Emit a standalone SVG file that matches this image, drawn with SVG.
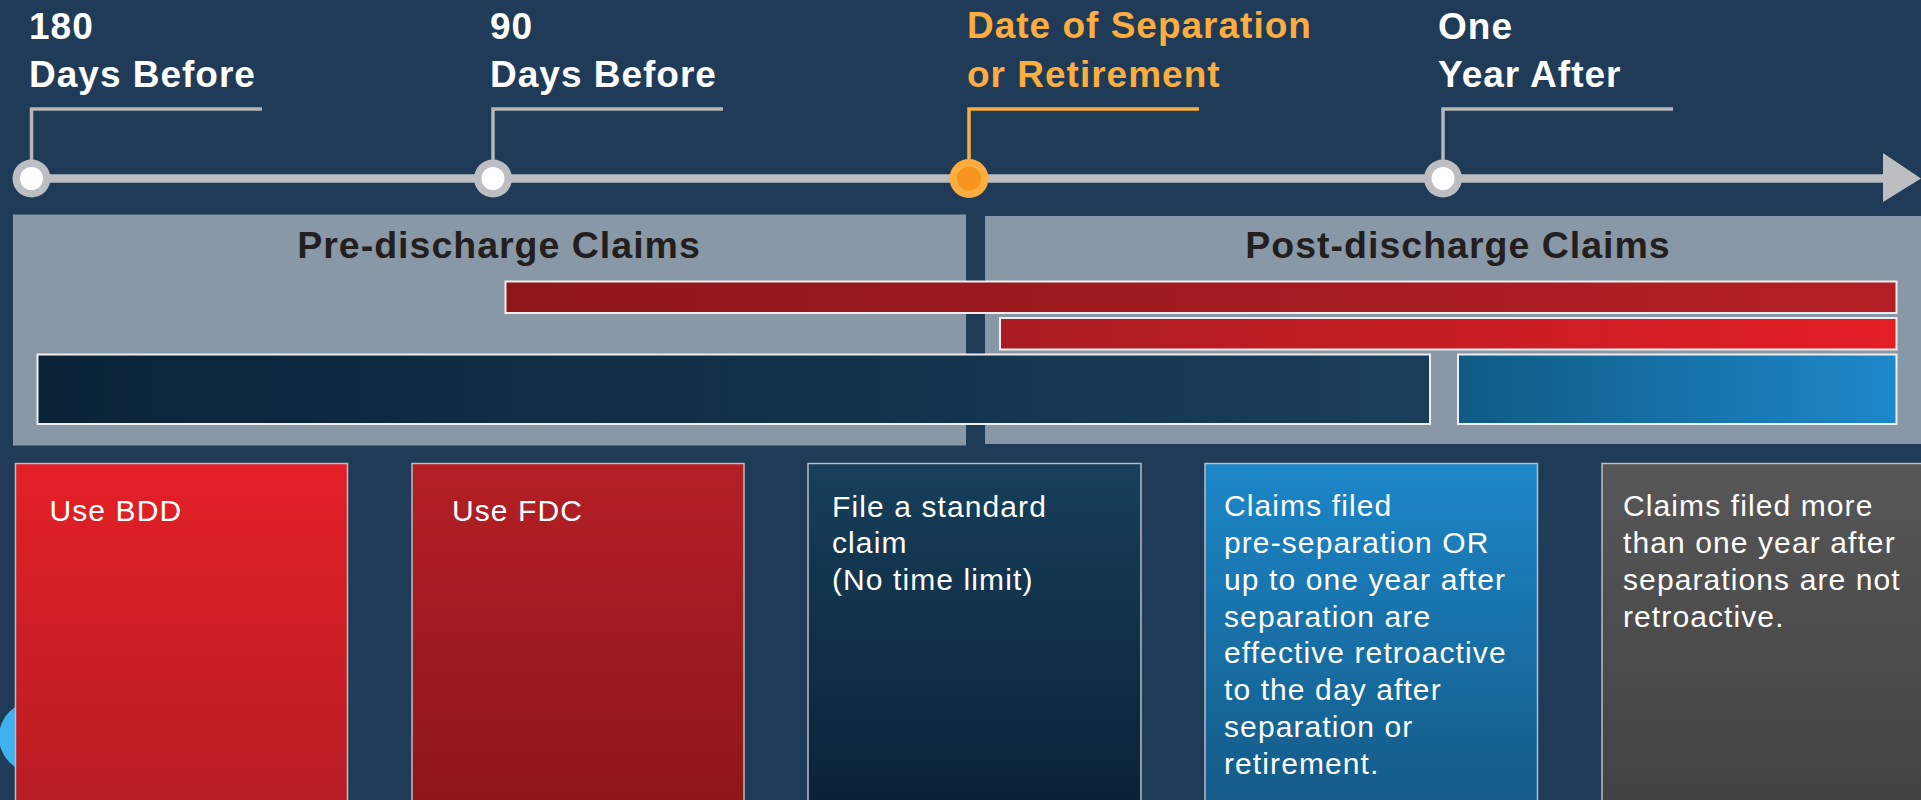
<svg xmlns="http://www.w3.org/2000/svg" width="1921" height="800" viewBox="0 0 1921 800">
<defs>
<style>
.lbl{font-family:"Liberation Sans",Arial,sans-serif;font-weight:bold;font-size:37px;letter-spacing:1px;fill:#ffffff}
.lbl.o{fill:#fbad3f}
.lead{fill:none;stroke:#b5b7bb;stroke-width:3.5}
.lead.o{stroke:#fbad3f}
.ptitle{font-family:"Liberation Sans",Arial,sans-serif;font-weight:bold;font-size:37.5px;letter-spacing:1px;fill:#231f20;text-anchor:middle}
.panel{fill:#8898a6}
.bar{stroke:#eeeeee;stroke-width:2}
.card{stroke:#b8bec6;stroke-width:1.5}
.ct{font-family:"Liberation Sans",Arial,sans-serif;font-size:30px;letter-spacing:1.1px;fill:#ffffff}
</style>
<linearGradient id="gBar1" x1="0" y1="0" x2="1" y2="0"><stop offset="0" stop-color="#8e161b"/><stop offset="1" stop-color="#b41f24"/></linearGradient>
<linearGradient id="gBar2" x1="0" y1="0" x2="1" y2="0"><stop offset="0" stop-color="#a91c21"/><stop offset="1" stop-color="#e41e25"/></linearGradient>
<linearGradient id="gBar3" x1="0" y1="0" x2="1" y2="0"><stop offset="0" stop-color="#0a2337"/><stop offset="1" stop-color="#193e5b"/></linearGradient>
<linearGradient id="gBar4" x1="0" y1="0" x2="1" y2="0"><stop offset="0" stop-color="#0f5a84"/><stop offset="1" stop-color="#1d88ca"/></linearGradient>
<linearGradient id="gC1" x1="0" y1="0" x2="0" y2="1"><stop offset="0" stop-color="#e41f26"/><stop offset="1" stop-color="#b71d24"/></linearGradient>
<linearGradient id="gC2" x1="0" y1="0" x2="0" y2="1"><stop offset="0" stop-color="#b41f25"/><stop offset="1" stop-color="#8d161a"/></linearGradient>
<linearGradient id="gC3" x1="0" y1="0" x2="0" y2="1"><stop offset="0" stop-color="#173f5b"/><stop offset="1" stop-color="#0a2236"/></linearGradient>
<linearGradient id="gC4" x1="0" y1="0" x2="0" y2="1"><stop offset="0" stop-color="#1c87c9"/><stop offset="1" stop-color="#145a86"/></linearGradient>
<linearGradient id="gC5" x1="0" y1="0" x2="0" y2="1"><stop offset="0" stop-color="#575757"/><stop offset="1" stop-color="#424242"/></linearGradient>
</defs>
<rect x="0" y="0" width="1921" height="800" fill="#1f3b57"/>

<g id="connectors">
<line x1="31" y1="178.5" x2="1885" y2="178.5" stroke="#bdbec2" stroke-width="8.5"/>
<polygon points="1883,153 1921,178.5 1883,202" fill="#bdbec2"/>
<polyline class="lead" points="31.5,178 31.5,109 262,109"/>
<polyline class="lead" points="493,178 493,109 723,109"/>
<polyline class="lead o" points="969,178 969,109 1199,109"/>
<polyline class="lead" points="1443,178 1443,109 1673,109"/>
</g>

<g id="m180">
<circle cx="31.5" cy="178.5" r="19" fill="#bdbec2"/><circle cx="31.5" cy="178.5" r="11.5" fill="#ffffff"/>
<text class="lbl" x="29" y="39">180</text><text class="lbl" x="29" y="87">Days Before</text>
</g>
<g id="m90">
<circle cx="493" cy="178.5" r="19" fill="#bdbec2"/><circle cx="493" cy="178.5" r="11.5" fill="#ffffff"/>
<text class="lbl" x="490" y="39">90</text><text class="lbl" x="490" y="87">Days Before</text>
</g>
<g id="mSep">
<circle cx="969" cy="178.5" r="19.5" fill="#fbad3f"/><circle cx="969" cy="178.5" r="12" fill="#f7941d"/>
<text class="lbl o" x="967" y="37.5">Date of Separation</text><text class="lbl o" x="967" y="87">or Retirement</text>
</g>
<g id="mYear">
<circle cx="1443" cy="178.5" r="19" fill="#bdbec2"/><circle cx="1443" cy="178.5" r="11.5" fill="#ffffff"/>
<text class="lbl" x="1438" y="39">One</text><text class="lbl" x="1438" y="87">Year After</text>
</g>

<g id="prePanel">
<rect class="panel" x="13" y="214.5" width="953" height="231"/>
<text class="ptitle" x="499" y="257.5">Pre-discharge Claims</text>
</g>
<g id="postPanel">
<rect class="panel" x="985" y="216" width="936" height="228"/>
<text class="ptitle" x="1458" y="257.5">Post-discharge Claims</text>
</g>

<g id="bars">
<rect class="bar" x="505.5" y="281.5" width="1391" height="31.5" fill="url(#gBar1)"/>
<rect class="bar" x="1000" y="318" width="896.5" height="31.5" fill="url(#gBar2)"/>
<rect class="bar" x="37.5" y="354.5" width="1392.5" height="69.5" fill="url(#gBar3)"/>
<rect class="bar" x="1458" y="354.5" width="438.5" height="69.5" fill="url(#gBar4)"/>
</g>

<circle cx="35" cy="737" r="36" fill="#3fb1ef"/>

<g id="card1">
<rect class="card" x="15.5" y="463.5" width="332" height="340" fill="url(#gC1)"/>
<text class="ct" x="49.5" y="521">Use BDD</text>
</g>
<g id="card2">
<rect class="card" x="412" y="463.5" width="332" height="340" fill="url(#gC2)"/>
<text class="ct" x="452" y="521">Use FDC</text>
</g>
<g id="card3">
<rect class="card" x="808" y="463.5" width="333" height="340" fill="url(#gC3)"/>
<text class="ct" x="832" y="516.5">File a standard</text>
<text class="ct" x="832" y="553.3">claim</text>
<text class="ct" x="832" y="590">(No time limit)</text>
</g>
<g id="card4">
<rect class="card" x="1205" y="463.5" width="332.5" height="340" fill="url(#gC4)"/>
<text class="ct" x="1224" y="516.3">Claims filed</text>
<text class="ct" x="1224" y="553.3">pre-separation OR</text>
<text class="ct" x="1224" y="590">up to one year after</text>
<text class="ct" x="1224" y="626.7">separation are</text>
<text class="ct" x="1224" y="663.3">effective retroactive</text>
<text class="ct" x="1224" y="700">to the day after</text>
<text class="ct" x="1224" y="736.7">separation or</text>
<text class="ct" x="1224" y="774">retirement.</text>
</g>
<g id="card5">
<rect class="card" x="1602" y="463.5" width="333" height="340" fill="url(#gC5)"/>
<text class="ct" x="1623" y="516.3">Claims filed more</text>
<text class="ct" x="1623" y="553.3">than one year after</text>
<text class="ct" x="1623" y="590">separations are not</text>
<text class="ct" x="1623" y="626.7">retroactive.</text>
</g>
</svg>
